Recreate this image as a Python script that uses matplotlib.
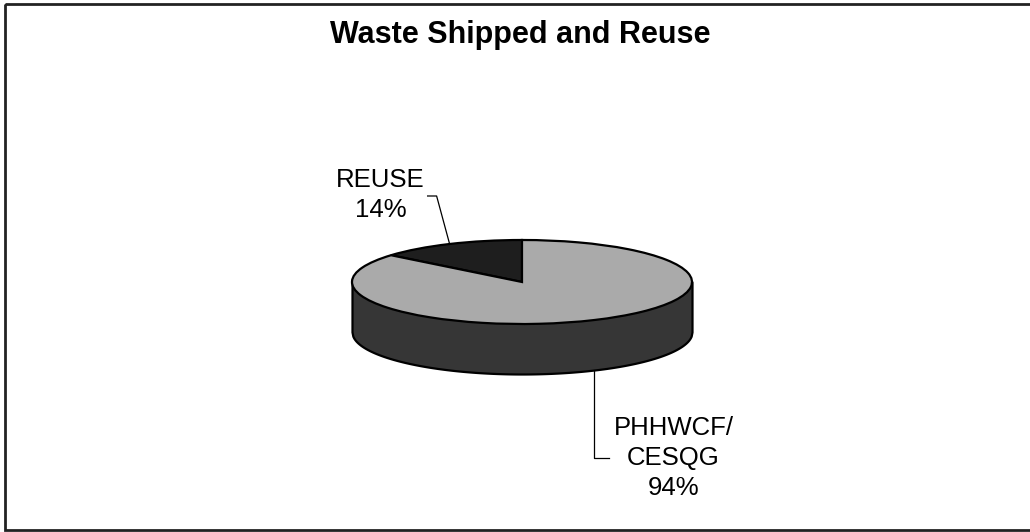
import numpy as np
import matplotlib
matplotlib.use("Agg")
import matplotlib.pyplot as plt
from matplotlib.patches import Rectangle

plt.rcParams['font.family'] = ['Liberation Sans', 'DejaVu Sans']

# Data
categories = ["REUSE", "PHHWCF/\nCESQG"]
shares = [14, 86]
pct_labels = ["14%", "94%"]
top_colors = ['#1e1e1e', '#aaaaaa']
side_color = '#363636'

W, H = 1030, 532
fig = plt.figure(figsize=(W / 100, H / 100), dpi=100)

# Overlay axes in pixel units (y down)
ax = fig.add_axes([0, 0, 1, 1])
ax.set_xlim(0, W)
ax.set_ylim(H, 0)
ax.axis('off')

# Pie geometry (pixels): centre, semi-axes, thickness
cx, cy, a, b, depth = 522, 282, 170, 42, 50
d = depth / b
xl = (-1.25, 1.25)
yl = (-1 - d - 0.3, 1.3)
left, right = cx + xl[0] * a, cx + xl[1] * a
top, bottom = cy - yl[1] * b, cy - yl[0] * b
pie_ax = fig.add_axes([left / W, (H - bottom) / H, (right - left) / W, (bottom - top) / H])

wedges, _ = pie_ax.pie(shares, colors=top_colors, startangle=90, counterclock=True,
                       wedgeprops=dict(edgecolor='black', linewidth=1.6, zorder=2))

# Side wall of the 3D pie
xs = np.linspace(-1, 1, 400)
front = -np.sqrt(1 - xs ** 2)
pie_ax.fill_between(xs, front - d, 0, facecolor=side_color, edgecolor='black',
                    linewidth=1.6, zorder=0)
pie_ax.set_aspect('auto')
pie_ax.set_xlim(xl)
pie_ax.set_ylim(yl)
pie_ax.axis('off')


def to_px(x, y):
    return cx + a * x, cy - b * y


# Mid angles of slices
bounds = 90 + np.concatenate([[0], np.cumsum(shares)]) / sum(shares) * 360
mids = np.radians((bounds[:-1] + bounds[1:]) / 2)

lab_kw = dict(fontsize=18.5, ha='center', va='center', multialignment='center', linespacing=1.3)

# REUSE label: leader from the top rim, up and to the left
sx, sy = to_px(np.cos(mids[0]), np.sin(mids[0]))
ex, ey = sx - 13, sy - 48
ax.plot([sx, ex, ex - 9], [sy, ey, ey], color='black', lw=0.9)
ax.text(ex - 56, ey - 1, categories[0] + "\n" + pct_labels[0], **lab_kw)

# PHHWCF/CESQG label: leader from the bottom rim, down and to the right
sx, sy = to_px(np.cos(mids[1]), np.sin(mids[1]) - d)
ey = sy + 88
ax.plot([sx, sx, sx + 15], [sy, ey, ey], color='black', lw=0.9)
ax.text(sx + 79, ey, categories[1] + "\n" + pct_labels[1], **lab_kw)

# Title
ax.text(520, 35, "Waste Shipped and Reuse", fontsize=22, fontweight='bold',
        ha='center', va='center')

# Chart border
ax.add_patch(Rectangle((5, 4), 1040, 526, fill=False, edgecolor='#222222', lw=2))

fig.savefig("out.png", dpi=100)
